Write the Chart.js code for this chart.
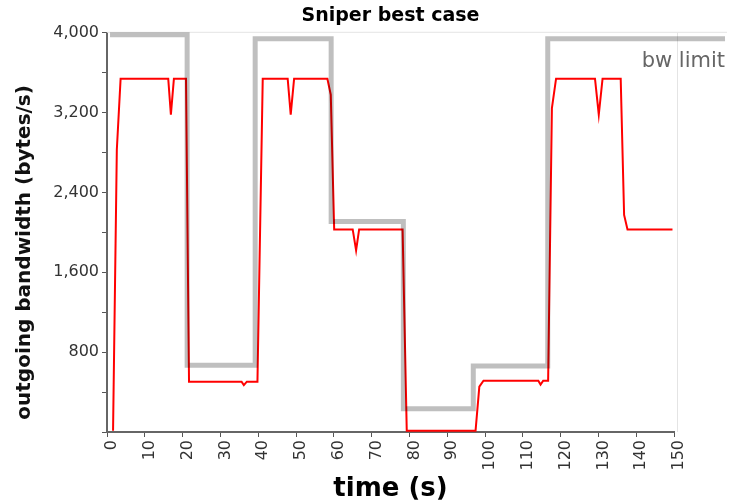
<!DOCTYPE html>
<html lang="en">
<head>
  <meta charset="UTF-8">
  <title>Sniper best case</title>
  <script src="https://cdn.jsdelivr.net/npm/chart.js"></script>
  <style>
    * { box-sizing: border-box; margin: 0; padding: 0; }
    body { background: #fff; width: 731px; height: 502px; overflow: hidden; }
    canvas { display: block; }
  </style>
</head>
<body>
<canvas id="bwChart" width="731" height="502"></canvas>

<script>
  // outgoing bandwidth samples (time in s, bytes/s)
  const sendTimes = [1.6, 2.6, 3.6, 16.2, 16.9, 17.7, 20.9, 21.7, 35.6, 36.2, 37.0, 39.8, 41.2,
    47.8, 48.6, 49.5, 58.3, 59.2, 60.1, 65.0, 65.9, 66.7, 78.2, 79.3, 97.5, 98.5, 99.6,
    114.1, 114.7, 115.4, 116.7, 117.7, 118.8, 129.1, 130.1, 131.1, 135.9, 136.8, 137.7, 149.6];
  const sendRates = [12, 2830, 3540, 3540, 3180, 3540, 3540, 504, 504, 470, 504, 504, 3540,
    3540, 3180, 3540, 3540, 3380, 2030, 2030, 1820, 2030, 2030, 12, 12, 454, 514,
    514, 475, 514, 514, 3245, 3540, 3540, 3180, 3540, 3540, 2175, 2030, 2030];

  // bandwidth limit, changes at these times
  const limitTimes = [0.8, 21.2, 39.2, 59.3, 78.4, 96.9, 116.6, 163.5];
  const limitRates = [3980, 670, 3940, 2110, 234, 662, 3940, 3940];

  const xTicks = [0, 10, 20, 30, 40, 50, 60, 70, 80, 90, 100, 110, 120, 130, 140, 150];
  const yLabelStep = 800;

  const FONT = "'DejaVu Sans', Verdana, sans-serif";
  const Y_TITLE = 'outgoing bandwidth (bytes/s)';

  // light frame on top and right of the plot
  const framePlugin = {
    id: 'frame',
    beforeDatasetsDraw(chart) {
      const { ctx, chartArea: a } = chart;
      ctx.save();
      ctx.strokeStyle = '#e4e4e4';
      ctx.lineWidth = 1;
      ctx.beginPath();
      ctx.moveTo(a.left, a.top - 0.5);
      ctx.lineTo(727, a.top - 0.5);
      ctx.moveTo(a.right + 3.5, a.top);
      ctx.lineTo(a.right + 3.5, a.bottom);
      ctx.stroke();
      ctx.restore();
    }
  };

  // series label at the end of the limit line + y axis title (sits a bit low in the original)
  const labelPlugin = {
    id: 'labels',
    afterDatasetsDraw(chart) {
      const ctx = chart.ctx;
      const meta = chart.getDatasetMeta(0);
      const last = meta.data[meta.data.length - 1];
      ctx.save();
      if (last) {
        ctx.font = '21px ' + FONT;
        ctx.fillStyle = '#666';
        ctx.textAlign = 'right';
        ctx.textBaseline = 'middle';
        ctx.fillText(chart.data.datasets[0].label, last.x, last.y + 23);
      }
      const a = chart.chartArea;
      ctx.translate(25, (a.top + a.bottom) / 2 + 20);
      ctx.rotate(-Math.PI / 2);
      ctx.font = 'bold 20px ' + FONT;
      ctx.fillStyle = '#111';
      ctx.textAlign = 'center';
      ctx.textBaseline = 'middle';
      ctx.fillText(Y_TITLE, 0, 0);
      ctx.restore();
    }
  };

  new Chart(document.getElementById('bwChart'), {
    type: 'line',
    data: {
      datasets: [{
        label: 'bw limit',
        data: limitTimes.map((t, i) => ({ x: t, y: limitRates[i] })),
        borderColor: 'rgba(0, 0, 0, 0.25)',
        borderWidth: 5,
        stepped: 'before',
        pointRadius: 0,
        clip: false
      }, {
        label: 'outgoing',
        data: sendTimes.map((t, i) => ({ x: t, y: sendRates[i] })),
        borderColor: '#ff0000',
        borderWidth: 2,
        pointRadius: 0,
        tension: 0,
        clip: false
      }]
    },
    options: {
      responsive: false,
      animation: false,
      layout: { padding: { left: 0, right: 57, top: 0, bottom: 0 } },
      plugins: {
        legend: { display: false },
        tooltip: { enabled: false },
        title: {
          display: true,
          text: 'Sniper best case',
          fullSize: false,
          color: '#000',
          font: { family: FONT, size: 19, weight: 'bold' },
          padding: { top: 5, bottom: 5 }
        }
      },
      scales: {
        x: {
          type: 'linear',
          min: 0,
          max: 150,
          afterFit: s => { s.height = 70; },
          afterBuildTicks: s => { s.ticks = xTicks.map(v => ({ value: v })); },
          border: { color: '#666', width: 2 },
          grid: { drawOnChartArea: false, tickLength: 5, tickColor: '#555' },
          ticks: {
            autoSkip: false,
            minRotation: 90,
            maxRotation: 90,
            labelOffset: 5,
            padding: 3,
            color: '#333',
            font: { family: FONT, size: 16 }
          },
          title: {
            display: true,
            text: 'time (s)',
            color: '#000',
            font: { family: FONT, size: 26, weight: 'bold' },
            padding: { top: 0, bottom: -3 }
          }
        },
        y: {
          min: 0,
          max: 4000,
          afterFit: s => { s.width = 107; },
          border: { color: '#666', width: 2 },
          grid: { drawOnChartArea: false, tickLength: 5, tickColor: '#555' },
          ticks: {
            stepSize: 400,
            padding: 3,
            color: '#333',
            font: { family: FONT, size: 16 },
            callback: v => (v > 0 && v % yLabelStep === 0) ? v.toLocaleString('en-US') : ''
          }
        }
      }
    },
    plugins: [framePlugin, labelPlugin]
  });
</script>
</body>
</html>
